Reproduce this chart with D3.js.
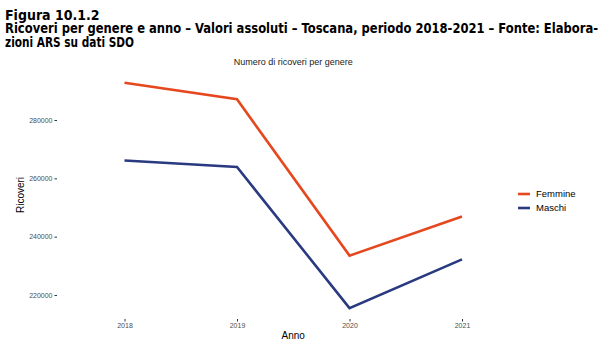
<!DOCTYPE html>
<html>
<head>
<meta charset="utf-8">
<script src="https://cdn.jsdelivr.net/npm/d3@7"></script>
<style>
  body { margin: 0; background: #fff; }
  svg { display: block; }
</style>
</head>
<body>
<div id="chart"></div>
<script>
// Data
const years = [2018, 2019, 2020, 2021];
const femmine = [292800, 287100, 233500, 246900];
const maschi = [266100, 263900, 215500, 232200];
const yTicks = [220000, 240000, 260000, 280000];
const seriesNames = ["Femmine", "Maschi"];
const seriesColors = ["#e5481e", "#2a3a80"];

const width = 604, height = 351;

const svg = d3.select("#chart").append("svg")
    .attr("width", width)
    .attr("height", height);

// Heading
const head = svg.append("g")
    .style("font-family", "'DejaVu Sans Condensed', 'DejaVu Sans', sans-serif")
    .style("font-weight", "bold")
    .style("fill", "#000");

head.append("text").attr("x", 5).attr("y", 20)
    .style("font-size", "14px")
    .text("Figura 10.1.2");
head.append("text").attr("x", 5).attr("y", 33)
    .style("font-size", "14px")
    .attr("textLength", 593).attr("lengthAdjust", "spacingAndGlyphs")
    .text("Ricoveri per genere e anno \u2013 Valori assoluti \u2013 Toscana, periodo 2018-2021 \u2013 Fonte: Elabora-");
head.append("text").attr("x", 5).attr("y", 46.5)
    .style("font-size", "14px")
    .attr("textLength", 129).attr("lengthAdjust", "spacingAndGlyphs")
    .text("zioni ARS su dati SDO");

// Scales
const x = d3.scaleLinear().domain([2018, 2021]).range([124.5, 462]);
const y = d3.scaleLinear().domain([220000, 280000]).range([295, 120]);

const font = "'Liberation Sans', Arial, sans-serif";

// Plot title
svg.append("text")
    .attr("x", (x(2018) + x(2021)) / 2)
    .attr("y", 65)
    .attr("text-anchor", "middle")
    .style("font-family", font)
    .style("font-size", "9px")
    .style("fill", "#1a1a1a")
    .text("Numero di ricoveri per genere");

// Y axis
const yAxis = d3.axisLeft(y)
    .tickValues(yTicks)
    .tickSize(2.5)
    .tickPadding(2)
    .tickFormat(d3.format("d"));

const gy = svg.append("g")
    .attr("transform", "translate(57,0)")
    .call(yAxis);
gy.select(".domain").remove();
gy.selectAll(".tick line").attr("stroke", "#333");
gy.selectAll(".tick text")
    .style("font-family", font)
    .style("font-size", "7px")
    .style("fill", "#4d4d4d");

// X axis
const xAxis = d3.axisBottom(x)
    .tickValues(years)
    .tickSize(2.5)
    .tickPadding(2)
    .tickFormat(d3.format("d"));

const gx = svg.append("g")
    .attr("transform", "translate(0,319)")
    .call(xAxis);
gx.select(".domain").remove();
gx.selectAll(".tick line").attr("stroke", "#333");
gx.selectAll(".tick text")
    .style("font-family", font)
    .style("font-size", "7px")
    .style("fill", "#4d4d4d");

// Axis titles
svg.append("text")
    .attr("x", (x(2018) + x(2021)) / 2)
    .attr("y", 339)
    .attr("text-anchor", "middle")
    .style("font-family", font)
    .style("font-size", "10px")
    .style("fill", "#000")
    .text("Anno");

svg.append("text")
    .attr("transform", "translate(24,195) rotate(-90)")
    .attr("text-anchor", "middle")
    .style("font-family", font)
    .style("font-size", "10px")
    .style("fill", "#000")
    .text("Ricoveri");

// Lines
const line = d3.line()
    .x((d, i) => x(years[i]))
    .y(d => y(d));

[femmine, maschi].forEach((values, i) => {
    svg.append("path")
        .datum(values)
        .attr("fill", "none")
        .attr("stroke", seriesColors[i])
        .attr("stroke-width", 2.6)
        .attr("stroke-linejoin", "miter")
        .attr("d", line);
});

// Legend
const legend = svg.append("g").attr("transform", "translate(518,194)");
seriesNames.forEach((name, i) => {
    const g = legend.append("g").attr("transform", `translate(0,${i * 14})`);
    g.append("line")
        .attr("x1", 0).attr("x2", 12)
        .attr("stroke", seriesColors[i])
        .attr("stroke-width", 2.6);
    g.append("text")
        .attr("x", 18)
        .attr("dy", "0.35em")
        .style("font-family", font)
        .style("font-size", "9.5px")
        .style("fill", "#000")
        .text(name);
});
</script>
</body>
</html>
